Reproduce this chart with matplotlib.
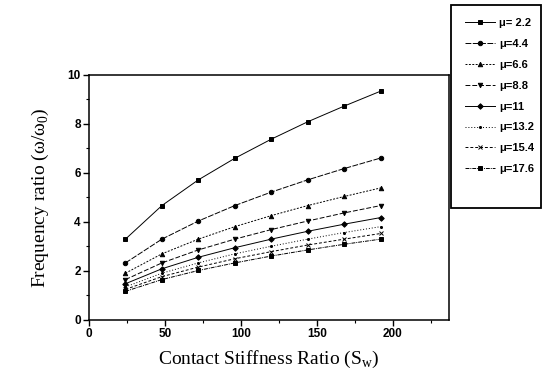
import matplotlib.pyplot as plt
from matplotlib.patches import Rectangle
from matplotlib.ticker import MultipleLocator

stiffness = [24, 48, 72, 96, 120, 144, 168, 192]
mu_labels = ["\u03bc= 2.2", "\u03bc=4.4", "\u03bc=6.6", "\u03bc=8.8",
             "\u03bc=11", "\u03bc=13.2", "\u03bc=15.4", "\u03bc=17.6"]
freq = [
    [3.30, 4.67, 5.72, 6.60, 7.38, 8.09, 8.73, 9.34],
    [2.33, 3.30, 4.04, 4.67, 5.22, 5.72, 6.18, 6.61],
    [1.91, 2.70, 3.30, 3.81, 4.26, 4.67, 5.04, 5.39],
    [1.65, 2.33, 2.86, 3.30, 3.69, 4.04, 4.37, 4.67],
    [1.48, 2.09, 2.56, 2.95, 3.30, 3.62, 3.91, 4.18],
    [1.35, 1.91, 2.33, 2.70, 3.01, 3.30, 3.57, 3.81],
    [1.25, 1.77, 2.16, 2.50, 2.79, 3.06, 3.30, 3.53],
    [1.17, 1.65, 2.02, 2.33, 2.61, 2.86, 3.09, 3.30],
]

markers = ["s", "o", "^", "v", "D", ".", "x", "s"]
msizes = [3.2, 3.2, 3.2, 3.2, 2.8, 3, 3.2, 2.8]
styles = ["-", (0, (6, 1.5)), (0, (2, 1.5)), (0, (5, 2)), "-", (0, (1, 2)),
          (0, (3, 2)), (0, (4, 1, 1, 1))]

fig = plt.figure(figsize=(5.44, 3.79), dpi=100)
ax = fig.add_axes([0.1636, 0.1557, 0.6618, 0.6465])

lines = []
for vals, lab, m, ms, ls in zip(freq, mu_labels, markers, msizes, styles):
    ln, = ax.plot(stiffness, vals, color="black", lw=0.7, ls=ls, marker=m,
                  ms=ms, mew=0.7, label=lab)
    lines.append(ln)

ax.set_xlim(0, 237)
ax.set_ylim(0, 10)
ax.xaxis.set_major_locator(MultipleLocator(50))
ax.xaxis.set_minor_locator(MultipleLocator(25))
ax.yaxis.set_major_locator(MultipleLocator(2))
ax.yaxis.set_minor_locator(MultipleLocator(1))
ax.tick_params(which="major", direction="out", length=4, width=1,
               labelsize=8.5, pad=2)
ax.tick_params(which="minor", direction="out", length=2, width=0.8)
for lab in ax.get_xticklabels() + ax.get_yticklabels():
    lab.set_fontfamily("Liberation Sans")
    lab.set_fontweight("bold")
for sp in ax.spines.values():
    sp.set_linewidth(1.1)

ax.set_xlabel("Contact Stiffness Ratio (S$_\\mathregular{w}$)",
              fontfamily="Liberation Serif", fontsize=14, labelpad=6)
ax.set_ylabel("Frequency ratio (\u03c9/\u03c9$_\\mathregular{0}$)",
              fontfamily="Liberation Serif", fontsize=14, labelpad=12)

# legend box hangs off the right edge of the plot
fig.patches.append(Rectangle((451 / 544, 1 - 208 / 379), 90 / 544, 203 / 379,
                             transform=fig.transFigure, fill=False,
                             edgecolor="black", lw=1.3))
fig.legend(handles=lines, loc="upper left",
           bbox_to_anchor=(455 / 544, 1 - 8 / 379),
           frameon=False,
           prop={"family": "Liberation Sans", "weight": "bold", "size": 8},
           handlelength=2.7, labelspacing=0.98, borderpad=0.4,
           handletextpad=0.4)

fig.savefig("out.png", dpi=100)
